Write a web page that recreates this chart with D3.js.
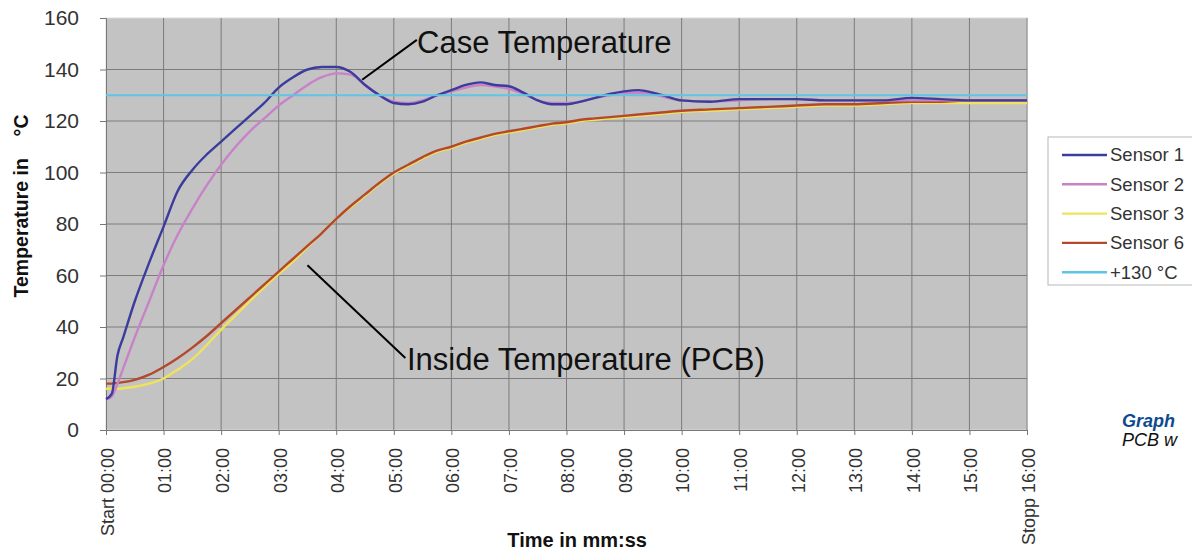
<!DOCTYPE html>
<html>
<head>
<meta charset="utf-8">
<script src="https://cdn.jsdelivr.net/npm/d3@7"></script>
<style>
  body { margin: 0; background: #fff; }
  svg { font-family: "Liberation Sans", Arial, sans-serif; }
</style>
</head>
<body>
<svg id="chart" width="1192" height="556"></svg>
<script>
// Time in minutes since start.
const minutes = [0, 0.1, 0.2, 0.3, 0.5, 0.75, 1, 1.25, 1.5, 1.75, 2, 2.25, 2.5, 2.75, 3, 3.25, 3.5, 3.75,
  4, 4.25, 4.5, 4.75, 5, 5.25, 5.5, 5.75, 6, 6.25, 6.5, 6.75, 7, 7.25, 7.5, 7.75, 8, 8.25, 8.5, 8.75,
  9, 9.25, 9.5, 9.75, 10, 10.5, 11, 11.5, 12, 12.5, 13, 13.5, 14, 14.5, 15, 15.5, 16];

const sensor1 = [12, 14, 29, 36, 50, 65, 79, 93, 101, 107, 112, 117, 122, 127, 133, 137, 140, 141,
  141, 139, 134, 130, 127, 126.5, 127.5, 130, 132, 134, 135, 134, 133.5, 131, 128, 126.5, 126.5, 127.5, 129, 130.5,
  131.5, 132, 131, 129.5, 128, 127.5, 128.5, 128.5, 128.5, 128, 128, 128, 129, 128.5, 128, 128, 128];

const sensor2 = [12, 13, 18, 24, 36, 50, 64, 76, 86, 95, 103, 110, 116, 121, 126, 130, 134, 137,
  138.5, 138, 134, 130, 127.5, 127, 128, 130, 131.5, 133, 134, 133.5, 132.5, 130.5, 128, 127, 127, 127.5, 129, 130,
  131, 131, 130.5, 129, 128, 127.5, 128, 128.5, 128.5, 128, 128, 128, 128, 128, 128, 128, 128];

const sensor3 = [16, 16, 16, 16.2, 16.8, 18, 20, 23.5, 27.5, 33, 39, 44.5, 50, 55.5, 60.5, 65.5, 71, 76.5,
  82, 86.5, 91, 95.5, 99.5, 102.5, 105.5, 108, 109.5, 111.5, 113, 114.5, 115.5, 116.5, 117.5, 118.5, 119, 120, 120.5, 121,
  121.5, 122, 122.5, 123, 123.5, 124, 124.5, 125, 125.5, 126, 126, 126.5, 127, 127, 127, 127, 127];

const sensor6 = [18, 18, 18.3, 18.6, 19.5, 21.5, 24.5, 28, 32, 36.5, 41.5, 46.5, 51.5, 56.5, 61.5, 66.5, 71.5, 76.5,
  82, 87, 91.5, 96, 100, 103, 106, 108.5, 110, 112, 113.5, 115, 116, 117, 118, 119, 119.5, 120.5, 121, 121.5,
  122, 122.5, 123, 123.5, 124, 124.5, 125, 125.5, 126, 126.5, 126.5, 127, 127.5, 127.5, 128, 128, 128];

const limit = 130;

const seriesNames = ["Sensor 1", "Sensor 2", "Sensor 3", "Sensor 6", "+130 °C"];
const seriesColors = ["#3c3c9c", "#c882c8", "#f0e35a", "#b4482c", "#5ec6e4"];

const xTickMinutes = d3.range(0, 17);
const xTickLabels = ["Start 00:00", "01:00", "02:00", "03:00", "04:00", "05:00", "06:00", "07:00", "08:00",
  "09:00", "10:00", "11:00", "12:00", "13:00", "14:00", "15:00", "Stopp 16:00"];
const yTicks = [0, 20, 40, 60, 80, 100, 120, 140, 160];

const svg = d3.select("#chart");
const margin = { left: 106, right: 1027, top: 18, bottom: 430 };

const x = d3.scaleLinear().domain([0, 16]).range([margin.left, margin.right]);
const y = d3.scaleLinear().domain([0, 160]).range([margin.bottom, margin.top]);

// Plot background.
svg.append("rect")
  .attr("x", x(0)).attr("y", y(160))
  .attr("width", x(16) - x(0)).attr("height", y(0) - y(160))
  .attr("fill", "#c3c3c3")
  .attr("stroke", "#dcdcdc");

// Grid lines.
svg.append("g")
  .selectAll("line.h")
  .data(yTicks.slice(1, -1))
  .enter().append("line")
  .attr("x1", x(0)).attr("x2", x(16))
  .attr("y1", (d) => y(d)).attr("y2", (d) => y(d))
  .attr("stroke", "#7c7c7c");

svg.append("g")
  .selectAll("line.v")
  .data(xTickMinutes.slice(1))
  .enter().append("line")
  .attr("x1", (d) => x(d)).attr("x2", (d) => x(d))
  .attr("y1", y(0)).attr("y2", y(160))
  .attr("stroke", "#7c7c7c");

// Axes.
const yAxis = svg.append("g")
  .attr("transform", `translate(${x(0)},0)`)
  .call(d3.axisLeft(y).tickValues(yTicks).tickSize(6).tickPadding(21));
yAxis.select(".domain").attr("stroke", "#777");
yAxis.selectAll(".tick line").attr("stroke", "#777");
yAxis.selectAll(".tick text")
  .attr("font-size", 21).attr("fill", "#333")
  .attr("font-family", "Liberation Sans, Arial, sans-serif");

const xAxis = svg.append("g")
  .attr("transform", `translate(0,${y(0)})`)
  .call(d3.axisBottom(x).tickValues(xTickMinutes).tickSize(5)
    .tickFormat((d, i) => xTickLabels[i]));
xAxis.select(".domain").attr("stroke", "#777");
xAxis.selectAll(".tick line").attr("stroke", "#777");
xAxis.selectAll(".tick text")
  .attr("font-size", 18).attr("fill", "#333")
  .attr("font-family", "Liberation Sans, Arial, sans-serif")
  .attr("text-anchor", "end")
  .attr("transform", "rotate(-90)")
  .attr("x", -18).attr("y", 1).attr("dy", "0.35em");

// Series lines.
const line = d3.line()
  .x((d, i) => x(minutes[i]))
  .y((d) => y(d))
  .curve(d3.curveMonotoneX);

const sensors = [sensor1, sensor2, sensor3, sensor6];
// Draw yellow under brown, pink under blue, as in the picture.
[2, 3, 1, 0].forEach((k) => {
  svg.append("path")
    .datum(sensors[k])
    .attr("d", line)
    .attr("fill", "none")
    .attr("stroke", seriesColors[k])
    .attr("stroke-width", 2.4);
});

svg.append("line")
  .attr("x1", x(0)).attr("x2", x(16))
  .attr("y1", y(limit)).attr("y2", y(limit))
  .attr("stroke", seriesColors[4])
  .attr("stroke-width", 2);

// Annotations.
svg.append("line")
  .attr("x1", x(4.45)).attr("y1", y(136))
  .attr("x2", x(5.4)).attr("y2", y(151.5))
  .attr("stroke", "#000").attr("stroke-width", 2);
svg.append("text")
  .attr("x", 417).attr("y", 53)
  .attr("font-size", 31).attr("fill", "#111")
  .text("Case Temperature");

svg.append("line")
  .attr("x1", x(3.5)).attr("y1", y(64))
  .attr("x2", x(5.2)).attr("y2", y(28))
  .attr("stroke", "#000").attr("stroke-width", 2);
svg.append("text")
  .attr("x", 407).attr("y", 370)
  .attr("font-size", 31).attr("fill", "#111")
  .text("Inside Temperature (PCB)");

// Axis titles.
svg.append("text")
  .attr("transform", "translate(28,206) rotate(-90)")
  .attr("text-anchor", "middle")
  .attr("font-size", 19.5).attr("font-weight", "bold").attr("fill", "#111")
  .attr("xml:space", "preserve")
  .text("Temperature in    °C");

svg.append("text")
  .attr("x", 647).attr("y", 547)
  .attr("text-anchor", "end")
  .attr("font-size", 20).attr("font-weight", "bold").attr("fill", "#111")
  .text("Time in mm:ss");

// Legend.
const legend = svg.append("g");
legend.append("rect")
  .attr("x", 1048).attr("y", 137)
  .attr("width", 160).attr("height", 148)
  .attr("fill", "#fff").attr("stroke", "#b8b8b8");

const items = legend.selectAll("g.item")
  .data(seriesNames)
  .enter().append("g")
  .attr("transform", (d, i) => `translate(0,${155 + i * 29.3})`);
items.append("line")
  .attr("x1", 1062).attr("x2", 1107)
  .attr("stroke", (d, i) => seriesColors[i])
  .attr("stroke-width", 2.4);
items.append("text")
  .attr("x", 1110).attr("dy", "0.35em")
  .attr("font-size", 18.5).attr("fill", "#333")
  .text((d) => d);

// Caption cut at the right edge.
svg.append("text")
  .attr("x", 1122).attr("y", 427)
  .attr("font-size", 18).attr("font-weight", "bold").attr("font-style", "italic")
  .attr("fill", "#0e4a90")
  .text("Graph");
svg.append("text")
  .attr("x", 1122).attr("y", 446)
  .attr("font-size", 18).attr("font-style", "italic").attr("fill", "#111")
  .text("PCB w");
</script>
</body>
</html>
